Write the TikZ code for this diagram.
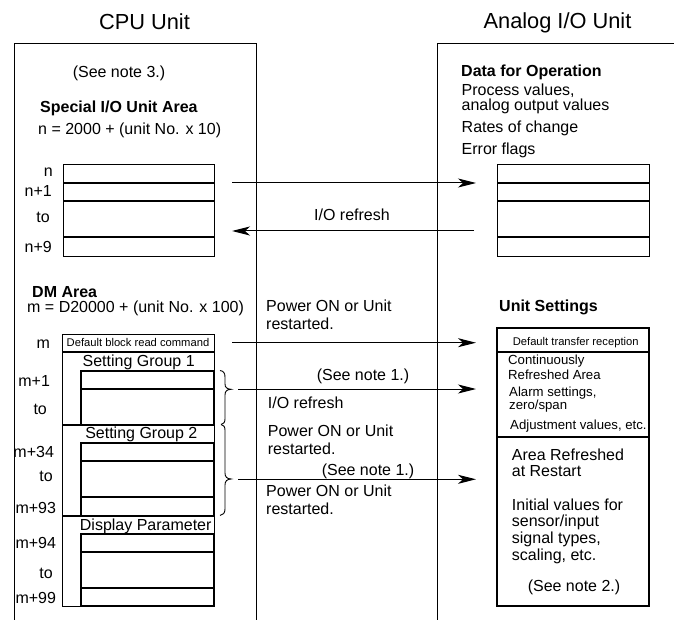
\documentclass[tikz,border=0pt]{standalone}
\usepackage{fontspec}
\setmainfont{Liberation Sans}
\usetikzlibrary{arrows.meta}
\newcommand\fbig{\fontsize{21.8}{24}\selectfont}
\newcommand\fmain{\fontsize{16}{18}\selectfont}
\newcommand\fmid{\fontsize{13.2}{15}\selectfont}
\newcommand\fsml{\fontsize{11.2}{13}\selectfont}
\begin{document}
\begin{tikzpicture}[x=1pt,y=-1pt,
  txt/.style={inner sep=0pt, font=\fmain},
  lw/.style={txt, anchor=base west},
  le/.style={txt, anchor=base east},
  lc/.style={txt, anchor=base},
  bold/.style={font=\fmain\bfseries},
  mid/.style={font=\fmid},
  sml/.style={font=\fsml},
  frameline/.style={line width=0.9pt},
  tline/.style={line width=1.4pt},
  arr/.style={line width=1pt, -{Stealth[length=18pt,width=9pt,inset=5pt]}},
  bracel/.style={line width=0.9pt}
]
\useasboundingbox (0,0) rectangle (674,620);
\begin{scope}
\clip (0,0) rectangle (674,620);
% unit frames
\draw[frameline] (14,621) -- (14,43) -- (256,43) -- (256,621);
\draw[frameline] (437,621) -- (437,43) -- (680,43);
\end{scope}

% titles
\node[lc, font=\fbig] (tcpu) at (144.5,30) {CPU Unit};
\node[lc, font=\fbig] (tana) at (557.5,28.5) {Analog I/O Unit};

% ---- CPU upper part
\node[lc] (note3) at (119,78) {(See note 3.)};
\node[lw, bold] (sioa) at (40,112.5) {Special I/O Unit Area};
\node[lw] (nform) at (38,135) {n = 2000 + (unit No. x 10)};
\node[le] (ln) at (53,176.7) {n};
\node[le] (ln1) at (52,196.5) {n+1};
\node[le] (lto) at (50,223) {to};
\node[le] (ln9) at (52,253) {n+9};
\draw[frameline] (63,164) rectangle (214,256);
\draw[tline] (63,183) -- (214,183) (63,201) -- (214,201) (63,237) -- (214,237);

% ---- Analog upper part
\node[lw, bold] (dfo) at (461,76.7) {Data for Operation};
\node[lw] (pv1) at (461.5,95.6) {Process values,};
\node[lw] (pv2) at (461.5,111) {analog output values};
\node[lw] (roc) at (461.5,132.7) {Rates of change};
\node[lw] (ef) at (461.5,155) {Error flags};
\draw[frameline] (497,164) rectangle (649,256);
\draw[tline] (497,183) -- (649,183) (497,201) -- (649,201) (497,237) -- (649,237);

% upper arrows
\coordinate (a1s) at (232,183);
\coordinate (a1e) at (476,183);
\coordinate (a2s) at (474,231);
\coordinate (a2e) at (232,231);
\draw[arr] (a1s) -- (a1e);
\draw[arr] (a2s) -- (a2e);
\node[lw] (iorf1) at (314,220.5) {I/O refresh};

% ---- DM area
\node[lw, bold] (dma) at (32,297.5) {DM Area};
\node[lw] (mform) at (27,312) {m = D20000 + (unit No. x 100)};
\node[lc] (lm) at (43.3,348.3) {m};
\node[lc] (lm1) at (34.2,386) {m+1};
\node[lc] (lto1) at (40.2,414) {to};
\node[lc] (lm34) at (33.7,457.7) {m+34};
\node[lc] (lto2) at (46,481.7) {to};
\node[lc] (lm93) at (35.8,513) {m+93};
\node[lc] (lm94) at (35.8,548) {m+94};
\node[lc] (lto3) at (46,578) {to};
\node[lc] (lm99) at (35.8,603) {m+99};

\draw[frameline] (62,334) rectangle (214,606);
\draw[tline] (62,352) -- (214,352);
\draw[tline] (62,425) -- (214,425);
\draw[tline] (62,516) -- (214,516);
\draw[tline] (81,371) rectangle (214,425);
\draw[tline] (81,389) -- (214,389);
\draw[tline] (81,443) rectangle (214,516);
\draw[tline] (81,461) -- (214,461) (81,497) -- (214,497);
\draw[tline] (81,534) rectangle (214,606);
\draw[tline] (81,552) -- (214,552) (81,588) -- (214,588);
\node[lc, sml] (dbrc) at (138,346.7) {Default block read command};
\node[lc] (sg1) at (138.7,366) {Setting Group 1};
\node[lc] (sg2) at (141.3,438.3) {Setting Group 2};
\node[lc] (dpar) at (145.7,530.7) {Display Parameter};

% braces
\draw[bracel] (220,370.5) .. controls (223.5,371) and (225,373) .. (225,377)
  -- (225,384) .. controls (225,387.5) and (227,389) .. (231,389.3)
  .. controls (227,389.6) and (225,391) .. (225,395)
  -- (225,419) .. controls (225,422.5) and (223.5,424) .. (221,424.5);
\draw[bracel] (221,424.5) .. controls (223.5,425) and (225,426.5) .. (225,430)
  -- (225,473) .. controls (225,477) and (227,478.7) .. (231,479)
  .. controls (227,479.3) and (225,481) .. (225,485)
  -- (225,509) .. controls (225,513) and (223,515) .. (220,515.5);

% lower arrows
\coordinate (a3s) at (232,342.7);
\coordinate (a3e) at (476,342.7);
\coordinate (a4s) at (238,389);
\coordinate (a4e) at (476,389);
\coordinate (a5s) at (238,479.3);
\coordinate (a5e) at (476,479.3);
\draw[arr] (a3s) -- (a3e);
\draw[arr] (a4s) -- (a4e);
\draw[arr] (a5s) -- (a5e);

\node[lw] (po1a) at (266,311.7) {Power ON or Unit};
\node[lw] (po1b) at (266,329.3) {restarted.};
\node[lc] (sn1a) at (363,380) {(See note 1.)};
\node[lw] (iorf2) at (267.7,408.3) {I/O refresh};
\node[lw] (po2a) at (267.7,436.7) {Power ON or Unit};
\node[lw] (po2b) at (267.7,454) {restarted.};
\node[lc] (sn1b) at (368,475) {(See note 1.)};
\node[lw] (po3a) at (266,496.7) {Power ON or Unit};
\node[lw] (po3b) at (266,514) {restarted.};

% ---- Unit settings
\node[lw, bold] (uset) at (499,311) {Unit Settings};
\draw[tline] (497,328) rectangle (649,606);
\draw[tline] (497,352) -- (649,352) (497,437) -- (649,437);
\node[lc, sml] (dtr) at (575.7,345) {Default transfer reception};
\node[lw, mid] (cr1) at (508,364.5) {Continuously};
\node[lw, mid] (cr2) at (508,379.5) {Refreshed Area};
\node[lw, mid] (al1) at (509,396.7) {Alarm settings,};
\node[lw, mid] (al2) at (509,409.5) {zero/span};
\node[lw, mid] (adj) at (510,429) {Adjustment values, etc.};
\node[lw] (ar1) at (511.7,460.7) {Area Refreshed};
\node[lw] (ar2) at (511.7,476.7) {at Restart};
\node[lw] (iv1) at (511.7,510) {Initial values for};
\node[lw] (iv2) at (511.7,526.7) {sensor/input};
\node[lw] (iv3) at (511.7,543.3) {signal types,};
\node[lw] (iv4) at (511.7,560.7) {scaling, etc.};
\node[lc] (sn2) at (574,591) {(See note 2.)};
\end{tikzpicture}
\end{document}
